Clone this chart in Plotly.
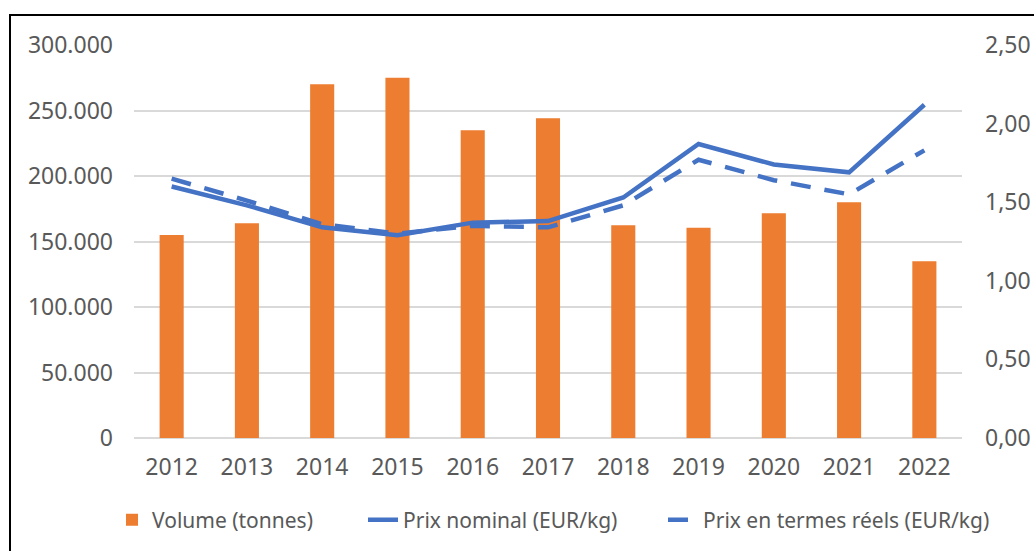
import plotly.graph_objects as go

years = ["2012", "2013", "2014", "2015", "2016", "2017", "2018", "2019", "2020", "2021", "2022"]
volume = [155000, 164000, 270000, 275000, 235000, 244000, 162500, 160500, 171500, 180000, 135000]
prix_nominal = [1.60, 1.48, 1.34, 1.29, 1.37, 1.38, 1.53, 1.87, 1.74, 1.69, 2.12]
prix_reel = [1.65, 1.51, 1.36, 1.30, 1.35, 1.34, 1.48, 1.77, 1.64, 1.55, 1.83]

left_ticks = [0, 50000, 100000, 150000, 200000, 250000, 300000]
right_ticks = [0, 0.5, 1.0, 1.5, 2.0, 2.5]

ORANGE = "#ED7D31"
BLUE = "#4472C4"
TXT = "#595959"
GRID = "#D9D9D9"
FONT = "Noto Sans"

W, H = 1034, 551
L, R, T, B = 134, 72, 45, 113
pw, ph = W - L - R, H - T - B


def px_x(x):
    return (x - L) / pw


def px_y(y):
    return 1 - (y - T) / ph


fig = go.Figure()
fig.add_trace(go.Bar(x=years, y=volume, name="Volume (tonnes)", marker_color=ORANGE,
                     marker_line_width=0, yaxis="y", legend="legend"))
fig.add_trace(go.Scatter(x=years, y=prix_nominal, name="Prix nominal (EUR/kg)", mode="lines",
                         line=dict(color=BLUE, width=4.5), yaxis="y2", legend="legend2"))
fig.add_trace(go.Scatter(x=years, y=prix_reel, name="Prix en termes réels (EUR/kg)", mode="lines",
                         line=dict(color=BLUE, width=4.5, dash="20px,14px"), yaxis="y2",
                         legend="legend3"))

leg_font = dict(family=FONT, size=21, color=TXT)
leg_y = px_y(520)


def leg(text_start):
    return dict(orientation="h", x=px_x(text_start - 41), xanchor="left", y=leg_y,
                yanchor="middle", font=leg_font, bgcolor="rgba(0,0,0,0)")


fig.update_layout(
    width=W, height=H,
    margin=dict(l=L, r=R, t=T, b=B, autoexpand=False),
    paper_bgcolor="white", plot_bgcolor="white",
    separators=",.",
    font=dict(family=FONT, size=23, color=TXT),
    bargap=0.68,
    showlegend=True,
    hovermode=False,
    legend=leg(153),
    legend2=leg(404),
    legend3=leg(704),
    xaxis=dict(showgrid=False, showline=False, ticks="", tickfont=dict(size=23),
               ticklabelstandoff=13),
    yaxis=dict(range=[0, 300000], tickvals=left_ticks, tickformat=",d", showgrid=True,
               gridcolor=GRID, gridwidth=1.5, zeroline=True, zerolinecolor=GRID, zerolinewidth=1.5,
               showline=False, ticks="", ticklabelstandoff=20, tickfont=dict(size=23)),
    yaxis2=dict(range=[0, 2.5], tickvals=right_ticks, tickformat=".2f", overlaying="y", side="right",
                showgrid=False, zeroline=False, showline=False, ticks="", ticklabelstandoff=22,
                tickfont=dict(size=23)),
    shapes=[
        dict(type="rect", xref="paper", yref="paper", x0=px_x(10), x1=px_x(1040),
             y0=px_y(560), y1=px_y(15), line=dict(color="black", width=2), layer="below"),
    ],
)

fig.write_html("out.html", config={"displayModeBar": False},
               post_script="document.body.style.margin='0';document.body.style.overflow='hidden';")
